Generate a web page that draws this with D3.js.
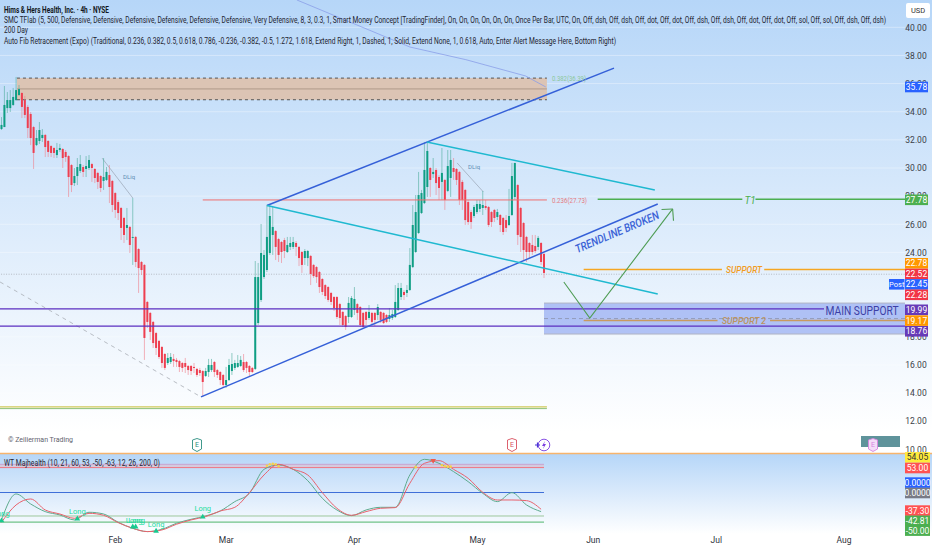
<!DOCTYPE html>
<html>
<head>
<meta charset="utf-8">
<title>HIMS 4h</title>
<script src="https://cdn.jsdelivr.net/npm/d3@7"></script>
<style>
  html, body { margin: 0; padding: 0; background: #fff; }
  svg { display: block; }
  text { font-family: Roboto, "Noto Sans", sans-serif; }
</style>
</head>
<body>
<div id="chart"></div>
<script>
// candles, 4h bars
var opens = [
  32.77,32.91,34.26,34.26,34.48,34.83,35.19,35.33,34.83,34.34,
  33.84,32.91,31.63,31.92,32.13,32.35,31.92,31.56,31.42,30.92,
  31.28,31.35,31.14,30.85,30.21,28.93,29.43,29.79,30.07,29.93,
  30.00,30.28,29.93,29.65,29.43,29.08,29.15,29.50,29.08,28.22,
  27.58,27.16,26.45,25.74,25.81,25.03,25.10,24.24,23.32,23.11,
  20.48,19.70,19.06,18.27,17.71,17.28,16.78,16.14,16.21,16.43,
  16.36,16.28,16.14,16.14,15.93,15.93,15.86,15.72,15.64,15.57,
  15.22,15.50,15.64,16.21,15.64,15.50,15.29,14.58,14.93,15.57,
  15.79,15.86,15.93,16.21,16.21,15.93,15.79,15.72,18.98,20.62,
  22.25,22.75,23.96,25.24,25.52,24.95,24.74,24.88,24.03,24.39,
  24.39,24.67,24.39,24.03,23.60,23.60,23.75,23.11,22.96,22.61,
  22.11,21.68,21.54,21.12,20.83,20.83,20.33,19.77,19.48,19.41,
  19.41,19.91,20.33,20.12,19.70,19.77,19.34,19.70,19.70,19.55,
  19.77,19.70,19.55,19.27,19.34,19.41,19.91,20.83,21.19,21.12,
  21.33,22.96,24.03,25.38,26.80,27.51,28.65,30.00,29.57,29.86,
  29.36,29.01,29.15,28.37,29.29,30.00,29.93,29.72,29.01,28.44,
  27.58,26.87,26.59,26.87,27.09,27.16,27.30,27.23,26.87,27.02,
  26.52,26.66,26.45,26.30,25.95,26.66,27.94,28.79,27.16,26.09,
  25.10,24.67,24.53,24.46,24.39,24.67,23.89
];
var highs = [
  33.62,35.83,35.40,35.54,35.69,36.47,35.90,35.40,35.12,34.48,
  33.98,32.99,32.70,33.27,32.77,32.42,31.99,31.63,31.49,31.78,
  31.71,31.42,31.28,30.92,30.28,30.00,30.71,30.92,30.21,30.85,
  30.92,30.36,30.00,29.72,29.50,30.71,30.07,30.21,29.15,28.29,
  27.73,27.23,26.52,27.16,25.88,27.87,25.17,24.31,23.39,23.18,
  20.55,19.77,19.13,18.35,17.78,17.35,16.85,16.85,16.85,16.78,
  16.50,16.36,16.21,16.50,16.00,16.00,16.14,15.79,15.79,15.64,
  15.79,16.43,16.43,16.28,15.72,15.57,15.36,15.86,16.43,16.85,
  16.36,16.71,16.64,16.78,16.28,16.00,15.86,23.39,23.25,26.02,
  24.17,27.37,27.37,27.23,25.59,25.03,24.81,25.03,25.10,25.10,
  25.10,24.81,24.46,24.10,24.24,24.17,23.82,23.18,23.03,22.68,
  22.18,21.75,21.61,21.19,20.90,20.90,20.41,19.84,19.55,20.83,
  20.90,21.54,20.41,20.19,19.77,19.84,20.26,19.77,19.77,20.33,
  19.84,19.77,19.62,20.05,19.91,21.68,21.83,21.83,21.33,21.68,
  24.31,27.37,28.08,29.72,28.44,31.85,31.85,30.07,30.71,30.00,
  29.50,31.42,29.22,31.28,31.28,30.71,30.00,29.79,29.15,28.51,
  27.73,27.02,27.37,27.73,27.73,28.37,27.73,27.30,26.94,27.09,
  27.09,26.73,26.52,26.66,28.51,30.36,30.36,28.86,27.23,26.16,
  25.17,24.74,25.24,25.24,25.17,24.74,23.96
];
var lows = [
  32.70,32.91,33.91,33.98,34.41,34.76,35.12,33.55,33.55,32.13,
  31.63,29.93,31.56,31.71,31.85,30.78,30.78,30.78,30.71,30.71,
  31.14,30.00,30.43,27.94,28.29,28.72,28.79,29.65,29.36,29.36,
  29.86,29.01,28.93,28.51,28.29,28.44,29.08,27.51,26.87,26.45,
  26.30,24.88,24.67,24.88,23.96,23.11,22.96,21.12,22.40,16.36,
  18.63,17.78,17.21,16.71,16.43,15.79,15.64,16.00,16.07,15.86,
  15.86,15.50,15.50,15.43,15.29,15.29,15.43,15.15,15.22,13.73,
  15.15,15.15,15.50,15.15,15.08,14.58,14.44,14.37,14.86,15.29,
  15.64,15.79,15.86,15.50,15.43,15.15,15.43,15.64,18.84,20.48,
  22.11,22.61,23.82,23.82,23.46,23.32,23.25,23.60,23.96,24.17,
  24.24,23.75,23.03,22.54,23.11,23.03,21.68,22.18,21.83,21.12,
  20.97,20.69,20.48,20.26,19.84,19.27,18.84,18.70,18.49,18.98,
  19.34,19.55,19.20,18.70,18.63,18.84,19.20,18.84,18.77,19.20,
  18.98,18.91,18.98,19.06,19.20,19.34,19.84,20.62,20.62,20.83,
  21.26,22.89,23.96,25.31,26.73,27.44,27.94,27.94,29.29,28.08,
  27.73,27.73,27.02,28.29,27.94,29.15,28.79,27.37,27.02,25.95,
  25.95,25.67,26.45,26.73,26.87,26.66,27.02,25.81,25.81,26.16,
  26.30,25.45,25.24,25.45,25.88,26.59,27.73,24.53,24.03,23.46,
  23.32,23.60,23.82,23.96,24.17,23.11,22.18
];
var closes = [
  33.06,34.48,34.83,34.83,35.05,35.54,35.61,34.34,33.77,32.84,
  32.13,31.07,32.13,32.70,32.35,31.49,31.14,31.07,31.07,31.28,
  31.42,30.71,30.78,29.36,28.79,29.43,30.07,30.28,29.72,30.14,
  30.57,30.00,29.29,29.01,28.58,29.36,29.72,28.65,27.37,27.02,
  26.80,25.74,25.24,25.95,24.53,25.10,23.32,22.89,22.75,17.92,
  19.06,18.35,17.56,17.21,16.57,16.14,15.79,16.50,16.57,16.28,
  16.21,15.86,15.79,15.86,15.64,15.57,15.79,15.29,15.43,14.79,
  15.57,16.00,16.00,15.50,15.29,14.93,14.58,14.93,16.00,16.07,
  16.14,16.14,16.36,15.64,15.79,15.50,15.50,22.25,22.25,23.96,
  23.82,25.10,26.59,25.81,24.39,23.82,24.03,24.10,24.53,24.67,
  24.74,24.39,23.60,23.11,24.10,24.10,22.47,22.32,22.25,21.54,
  21.19,20.90,20.62,20.48,20.05,19.41,19.34,18.84,18.70,20.41,
  20.76,20.69,19.70,18.84,18.70,19.20,19.77,19.06,19.20,20.12,
  19.20,18.98,19.06,19.55,19.62,20.48,21.47,21.47,20.97,21.33,
  23.11,25.95,26.87,28.08,28.22,29.86,31.21,29.15,29.72,28.93,
  28.58,29.65,27.73,30.14,30.57,29.72,29.15,27.73,27.73,26.30,
  26.16,26.16,27.23,27.44,27.44,27.37,27.16,25.95,26.16,26.45,
  26.87,25.95,25.45,25.74,26.59,29.43,30.36,25.24,25.10,24.17,
  24.03,24.03,24.03,24.10,25.03,23.32,22.54
];

// WT oscillator, one reading every 5 bars
var wtStep = 5;
var wt1 = [-58.4,-3.1,-24.4,-40.7,-47.8,-58.4,-42.1,-45.7,-63.4,-76.2,-83.2,-78.3,-65.5,-57,-49.9,-39.3,-19.4,-1.7,49.3,58.6,49.3,25.2,-12.3,-37.2,-49.2,-37.2,-31.5,-31.5,37.3,70.6,62.1,44.4,23.1,-1.7,-19.4,-0.3,-26.5,-40.7];
var wt2 = [-63.4,-26.5,-13.8,-37.2,-45.7,-54.9,-44.3,-48.5,-64.1,-76.2,-83.2,-79.7,-67.6,-58.4,-51.3,-39.3,-31.5,-0.3,37.3,60,49.3,37.3,-0.3,-33.6,-48.5,-40.7,-33.6,-32.2,19.6,62.1,67.8,49.3,30.2,0.4,-15.9,-15.9,-17.3,-35.7];
var wtLevels = [60, 53, 0, -50, -63];
var longBars = [0, 26, 45, 46, 53, 69];
var longVals = [-60, -56, -73, -73, -82, -52];
var dotBars = [91, 92, 93, 94, 95, 142, 151, 152, 153, 154];
var dotVals = [57, 60, 61, 60, 56, 54, 58, 56, 55, 55];

// axes
var priceTicks = [40, 38, 36, 34, 32, 30, 28, 26, 24, 18, 16, 14, 12, 10];
var monthBars = [38.9, 76.9, 120.8, 163, 202.7, 244.9, 288.7];
var monthNames = ["Feb", "Mar", "Apr", "May", "Jun", "Jul", "Aug"];

// price levels
var fibLevel = 27.73, t1Level = 27.78, supportLevel = 22.78, support2Level = 19.17;
var mainLevels = [19.99, 18.76];
var postPrice = 22.45;

var W = 932, H = 550, paneRight = 905, lastBar = 186;
var x = d3.scaleLinear().domain([0, lastBar]).range([1.5, 544]);
var y = d3.scaleLinear().domain([10, 40]).range([449.4, 27.3]);
var wy = d3.scaleLinear().domain([0, 53]).range([492.5, 467.6]);
var barRight = x.invert(paneRight);

var svg = d3.select("#chart").append("svg").attr("width", W).attr("height", H);

var defs = svg.append("defs");
function grad(id, top, bottom) {
  var g = defs.append("linearGradient").attr("id", id).attr("x1", 0).attr("x2", 0).attr("y1", 0).attr("y2", 1);
  g.append("stop").attr("offset", "0%").attr("stop-color", top);
  g.append("stop").attr("offset", "100%").attr("stop-color", bottom);
}
grad("mainBg", "#b6d6f8", "#ffffff");
grad("wtBg", "#b6d6f8", "#ffffff");

svg.append("rect").attr("width", W).attr("height", 432).attr("fill", "url(#mainBg)");
svg.append("rect").attr("y", 454).attr("width", W).attr("height", 80).attr("fill", "url(#wtBg)");

// faint price grid
svg.append("g").selectAll("line").data(priceTicks.filter(function(d) { return d > 10; })).enter().append("line")
  .attr("x1", 0).attr("x2", paneRight)
  .attr("y1", function(d) { return y(d); }).attr("y2", function(d) { return y(d); })
  .attr("stroke", "#ffffff").attr("stroke-opacity", 0.35);

function seg(x0, p0, x1, p1, color, width, dash, op) {
  return svg.append("line")
    .attr("x1", x(x0)).attr("y1", y(p0)).attr("x2", x(x1)).attr("y2", y(p1))
    .attr("stroke", color).attr("stroke-width", width || 1)
    .attr("stroke-dasharray", dash || null).attr("stroke-opacity", op == null ? 1 : op);
}

// supply zone
svg.append("rect").attr("x", x(5.3)).attr("width", x(187) - x(5.3))
  .attr("y", y(36.39)).attr("height", y(34.85) - y(36.39)).attr("fill", "#dcc4b4");
seg(5.3, 36.39, 187, 36.39, "#333", 0.8, "3,3");
seg(5.3, 34.85, 187, 34.85, "#333", 0.8, "3,3");
seg(5.3, 35.62, 187, 35.62, "#a58f80", 0.8);

// blue support box
svg.append("rect").attr("x", x(186)).attr("width", paneRight - x(186))
  .attr("y", y(20.40)).attr("height", y(18.2) - y(20.40))
  .attr("fill", "#7d97ee").attr("fill-opacity", 0.55);
seg(186, 20.40, barRight, 20.40, "#b0b4c4", 1);
seg(186, 18.2, barRight, 18.2, "#b0b4c4", 1);
seg(186, 19.3, barRight, 19.3, "#8b93ad", 0.8, "4,3");

// double line under the lows
seg(-1, 13.02, 187, 13.02, "#cfc95a", 1.2);
seg(-1, 12.9, 187, 12.9, "#8fc27a", 1);

// post market dotted line
seg(-1, postPrice, barRight, postPrice, "#a9adb5", 1, "1,1.5", 0.8);

// thin curve and dashed leg
var thinPts = [[101.3, 41.94], [140, 38.6], [159.2, 37.7], [179.7, 36.54], [186.6, 35.76]];
svg.append("path").datum(thinPts)
  .attr("d", d3.line().x(function(d) { return x(d[0]); }).y(function(d) { return y(d[1]); }))
  .attr("fill", "none").attr("stroke", "#8a9ee8").attr("stroke-width", 0.8);
seg(-0.5, 21.9, 68.4, 13.73, "#a8adb5", 0.8, "4,4");
seg(34.5, 30.7, 45, 27.87, "#8f99a8", 0.6);
seg(156.2, 30.36, 165.2, 28.3, "#8f99a8", 0.6);

// candles
var candles = d3.range(opens.length);
var cg = svg.append("g");
cg.selectAll(".wick").data(candles).enter().append("line")
  .attr("class", "wick")
  .attr("x1", function(i) { return x(i); }).attr("x2", function(i) { return x(i); })
  .attr("y1", function(i) { return y(highs[i]); }).attr("y2", function(i) { return y(lows[i]); })
  .attr("stroke", function(i) { return closes[i] >= opens[i] ? "#4fae9c" : "#f0808c"; })
  .attr("stroke-width", 1).attr("stroke-opacity", 0.6);
cg.selectAll(".body").data(candles).enter().append("rect")
  .attr("class", "body")
  .attr("x", function(i) { return x(i) - 1; }).attr("width", 2)
  .attr("y", function(i) { return y(Math.max(opens[i], closes[i])); })
  .attr("height", function(i) { return Math.max(1, Math.abs(y(opens[i]) - y(closes[i]))); })
  .attr("fill", function(i) { return closes[i] >= opens[i] ? "#0f9e84" : "#ee3f50"; });

// levels
seg(69, fibLevel, 187, fibLevel, "#ef6f6f", 1);
seg(-1, mainLevels[0], 282, mainLevels[0], "#5b2fc0", 1.4);
seg(-1, mainLevels[1], barRight, mainLevels[1], "#5b2fc0", 1.4);

function gappedLevel(p, x0, gap0, gap1, color, width) {
  seg(x0, p, gap0, p, color, width);
  seg(gap1, p, barRight, p, color, width);
}
gappedLevel(t1Level, 204.4, 254, 258.5, "#4caf50", 1.3);
gappedLevel(supportLevel, 199.6, 247, 261.5, "#f5a623", 1.5);
gappedLevel(support2Level, 199.6, 245.5, 263.5, "#c99a5e", 1.5);

// channel lines
seg(68.4, 13.73, 225, 27.44, "#3560d8", 1.5);
seg(91, 27.33, 210, 37.1, "#3560d8", 1.5);
seg(91, 27.33, 225, 21.05, "#1fb9d0", 1.5);
seg(145.8, 31.85, 224, 28.44, "#1fb9d0", 1.5);

// projected path
var arrowPts = [[192.8, 21.9], [201.7, 19.34], [230.1, 27.09]];
svg.append("path").datum(arrowPts)
  .attr("d", d3.line().x(function(d) { return x(d[0]); }).y(function(d) { return y(d[1]); }))
  .attr("fill", "none").attr("stroke", "#4f9d55").attr("stroke-width", 1.1);
seg(230.1, 27.09, 226.3, 27.05, "#4f9d55", 1.1);
seg(230.1, 27.09, 230.4, 26.25, "#4f9d55", 1.1);

// chart text
function label(px, py, txt, size, color, opts) {
  opts = opts || {};
  var t = svg.append("text").attr("x", px).attr("y", py).text(txt)
    .attr("font-size", size).attr("fill", color)
    .attr("dominant-baseline", "central")
    .attr("text-anchor", opts.anchor || "start");
  if (opts.weight) t.attr("font-weight", opts.weight);
  if (opts.italic) t.attr("font-style", "italic");
  if (opts.len) t.attr("textLength", opts.len).attr("lengthAdjust", "spacingAndGlyphs");
  if (opts.rotate) t.attr("transform", "rotate(" + opts.rotate + " " + px + " " + py + ")");
  return t;
}

label(4, 10, "Hims & Hers Health, Inc. · 4h · NYSE", 8.5, "#131722", {weight: 700, len: 105});
label(4, 20, "SMC TFlab (5, 500, Defensive, Defensive, Defensive, Defensive, Defensive, Defensive, Very Defensive, 8, 3, 0.3, 1, Smart Money Concept [TradingFinder], On, On, On, On, On, On, Once Per Bar, UTC, On, Off, dsh, Off, dsh, Off, dot, Off, dot, Off, dsh, Off, dsh, Off, dot, Off, dot, Off, sol, Off, sol, Off, dsh, Off, dsh)", 8.5, "#1f2430", {len: 882});
label(4, 30, "200 Day", 8.5, "#1f2430", {len: 24});
label(4, 40.5, "Auto Fib Retracement (Expo) (Traditional, 0.236, 0.382, 0.5, 0.618, 0.786, -0.236, -0.382, -0.5, 1.272, 1.618, Extend Right, 1, Dashed, 1, Solid, Extend None, 1, 0.618, Auto, Enter Alert Message Here, Bottom Right)", 8.5, "#1f2430", {len: 612});

label(552, 78, "0.382(36.39)", 8, "#8cc79a", {len: 34});
label(552, 200, "0.236(27.73)", 8, "#e57b82", {len: 35});
label(123, 176, "DLiq", 6, "#5f8fb5");
label(468, 166, "DLiq", 6, "#5f8fb5");

label(750, 200, "T1", 10, "#4caf50", {anchor: "middle", italic: true});
label(744, 270, "SUPPORT", 9, "#f29b1d", {anchor: "middle", italic: true, weight: 500, len: 36});
label(744, 321, "SUPPORT 2", 9, "#bd9460", {anchor: "middle", italic: true, weight: 500, len: 44});
label(862, 310, "MAIN SUPPORT", 13, "#3c3fa6", {anchor: "middle", len: 73});
label(617, 232, "TRENDLINE BROKEN", 11.5, "#3a62d6", {anchor: "middle", italic: true, weight: 500, rotate: -23, len: 90});

label(8, 439, "© Zeilierman Trading", 8, "#5f636e", {len: 65});

// right axis
var axisG = svg.append("g").attr("transform", "translate(" + 916 + ",0)")
  .call(d3.axisRight(y).tickValues(priceTicks).tickSize(0).tickFormat(d3.format(".2f")));
axisG.select(".domain").remove();
axisG.selectAll("text").attr("x", 0).attr("text-anchor", "middle")
  .attr("font-size", 8.5).attr("fill", "#3b3f48").style("font-family", 'Roboto, sans-serif');

// wt pane
svg.append("line").attr("x1", 0).attr("x2", W).attr("y1", 453.5).attr("y2", 453.5)
  .attr("stroke", "#f7b46c").attr("stroke-width", 1.4);
svg.append("rect").attr("x", 0).attr("width", x(lastBar))
  .attr("y", wy(60)).attr("height", wy(53) - wy(60)).attr("fill", "#e9b8c4").attr("fill-opacity", 0.5);

var wtColors = ["#c9a3d0", "#ef7580", "#3f6fd8", "#9cc79c", "#4fb56c"];
svg.append("g").selectAll("line").data(wtLevels).enter().append("line")
  .attr("x1", 0).attr("x2", x(lastBar))
  .attr("y1", function(d) { return wy(d); }).attr("y2", function(d) { return wy(d); })
  .attr("stroke", function(d, i) { return wtColors[i]; }).attr("stroke-width", 1);

var wtLine = d3.line().curve(d3.curveMonotoneX)
  .x(function(d, i) { return x(i * wtStep); }).y(function(d) { return wy(d); });
svg.append("path").datum(wt1).attr("d", wtLine).attr("fill", "none").attr("stroke", "#5eab8e").attr("stroke-width", 1);
svg.append("path").datum(wt2).attr("d", wtLine).attr("fill", "none").attr("stroke", "#e9626c").attr("stroke-width", 1);

svg.append("g").selectAll("circle").data(dotBars).enter().append("circle")
  .attr("cx", function(d) { return x(d); })
  .attr("cy", function(d, i) { return wy(dotVals[i]); })
  .attr("r", 1.3).attr("fill", "#f6d34a");

var tri = d3.symbol().type(d3.symbolTriangle).size(14);
svg.append("g").selectAll("path").data(longBars).enter().append("path")
  .attr("d", tri)
  .attr("transform", function(d, i) { return "translate(" + x(d) + "," + wy(longVals[i]) + ")"; })
  .attr("fill", "#17c98f");
svg.append("path").attr("d", tri)
  .attr("transform", "translate(" + x(148) + "," + wy(68) + ") rotate(180)")
  .attr("fill", "#ec5b4f");

label(-7, 513, "Long", 7.5, "#22dca0");
label(x(26), 511.5, "Long", 7.5, "#22dca0", {anchor: "middle"});
label(x(45.5), 520, "Long", 7.5, "#22dca0", {anchor: "middle"});
label(x(46.3), 520, "Long", 7.5, "#22dca0", {anchor: "middle"});
label(x(53), 524.5, "Long", 7.5, "#22dca0", {anchor: "middle"});
label(x(69), 508.5, "Long", 7.5, "#22dca0", {anchor: "middle"});

label(4, 463, "WT Majhealth (10, 21, 60, 53, -50, -63, 12, 26, 200, 0)", 8.5, "#1f2430", {len: 156});

// month axis
var monthG = svg.append("g").attr("transform", "translate(0,537)")
  .call(d3.axisBottom(x).tickValues(monthBars).tickSize(0)
    .tickFormat(function(d, i) { return monthNames[i]; }));
monthG.select(".domain").remove();
monthG.selectAll("text").attr("y", 0).attr("dy", "0.75em")
  .attr("font-size", 8.5).attr("fill", "#2f333c").style("font-family", 'Roboto, sans-serif');

// earnings and dividend icons
function shield(px, py, color, fill) {
  var g = svg.append("g").attr("transform", "translate(" + px + "," + py + ")");
  g.append("path").attr("d", "M-4.5,-5 L0,-6.5 L4.5,-5 L4.5,4 L0,6.5 L-4.5,4 Z")
    .attr("fill", fill || "#ffffff").attr("stroke", color).attr("stroke-width", 0.9);
  g.append("text").text("E").attr("text-anchor", "middle").attr("dominant-baseline", "central")
    .attr("font-size", 7).attr("fill", color);
}
shield(197, 445, "#2b8f80");
shield(512, 445, "#d9505f");
svg.append("rect").attr("x", 861).attr("y", 436).attr("width", 39).attr("height", 11).attr("fill", "#5f939b");
shield(873, 445, "#d884e0", "#f4dcf8");

var bolt = svg.append("g").attr("transform", "translate(544,445)");
bolt.append("circle").attr("r", 5.8).attr("fill", "#fff").attr("stroke", "#7b3fe0").attr("stroke-width", 0.9);
bolt.append("path").attr("d", "M1,-4 L-2,1 L0,1 L-1,4 L2,-1 L0,-1 Z").attr("fill", "#7b3fe0");
bolt.append("path").attr("d", "M-6.5,-2.5 v5 M-9,0 h5").attr("stroke", "#4a35d6").attr("stroke-width", 1.2);

// price badges
var badgeVals = ["35.78", "27.78", "22.78", "22.52", "22.45", "22.28", "19.99", "19.17", "18.76", "54.05", "53.00", "0.0000", "0.0000", "-37.30", "-42.81", "-50.00"];
var badgeRows = [87, 199.8, 263.3, 274, 284.4, 294.8, 309.8, 320.6, 331.3, 457.4, 468, 482.6, 493, 510.6, 520.8, 530.6];
var badgeFill = ["#2962ff", "#4caf50", "#ff9800", "#f23645", "#2962ff", "#f23645", "#673ab7", "#ff9800", "#673ab7", "#ffeb3b", "#ff5252", "#2962ff", "#787b86", "#ff5252", "#4caf50", "#4caf50"];

var bg = svg.append("g").selectAll("g").data(badgeVals).enter().append("g")
  .attr("transform", function(d, i) { return "translate(" + 905 + "," + badgeRows[i] + ")"; });
bg.append("rect").attr("x", 0).attr("y", -5.3).attr("width", function(d, i) { return i > 8 ? 25 : 23; }).attr("height", 10.6)
  .attr("fill", function(d, i) { return badgeFill[i]; });
bg.append("text").attr("x", function(d, i) { return i > 8 ? 12.5 : 11.5; })
  .attr("text-anchor", "middle").attr("dominant-baseline", "central")
  .attr("font-size", 8.5)
  .attr("fill", function(d, i) { return i == 9 ? "#333" : "#ffffff"; })
  .text(function(d) { return d; });

svg.append("rect").attr("x", 889).attr("y", 279).attr("width", 15.5).attr("height", 10.6).attr("fill", "#2962ff");
label(896.7, 284.4, "Post", 7.5, "#ffffff", {anchor: "middle"});

svg.append("rect").attr("x", 906).attr("y", 3).attr("width", 24).attr("height", 15).attr("rx", 2).attr("fill", "#ffffff");
label(918, 10.5, "USD", 7.5, "#333333", {anchor: "middle"});
</script>
</body>
</html>
